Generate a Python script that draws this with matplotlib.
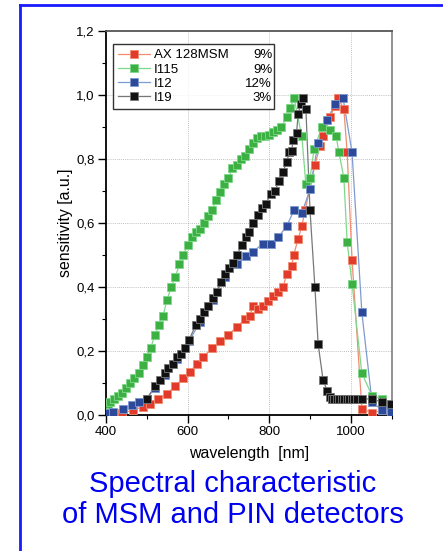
import numpy as np
import matplotlib
matplotlib.use('Agg')
import matplotlib.pyplot as plt
from matplotlib.lines import Line2D
from matplotlib.ticker import MultipleLocator, FuncFormatter

plt.rcParams['font.family'] = ['Liberation Sans', 'DejaVu Sans']

#-------------------------------------------------------------------------------
# data (wavelength in nm, sensitivity in a.u.)
ax128_wl = [420, 440, 466, 491, 508, 528, 549, 569, 589, 606, 623, 638, 660, 679,
            699, 721, 741, 753, 760, 773, 785, 797, 809, 822, 834, 843, 855, 860,
            871, 880, 888, 912, 924, 932, 949, 961, 969, 983, 991, 1003, 1027,
            1052, 1076, 1098]
ax128_s = [0.0, 0.005, 0.015, 0.025, 0.035, 0.05, 0.065, 0.09, 0.115, 0.135, 0.16,
           0.18, 0.21, 0.23, 0.25, 0.275, 0.30, 0.31, 0.34, 0.33, 0.34, 0.355,
           0.37, 0.385, 0.40, 0.44, 0.465, 0.50, 0.55, 0.59, 0.64, 0.78, 0.84,
           0.87, 0.93, 0.965, 0.99, 0.955, 0.82, 0.485, 0.02, 0.005, 0.015, 0.01]

i115_wl = [400, 405, 410, 420, 430, 440, 450, 460, 470, 480, 490, 500, 510, 520,
           530, 540, 550, 560, 570, 580, 590, 600, 610, 620, 630, 640, 650, 660,
           670, 680, 690, 700, 710, 720, 730, 740, 750, 760, 770, 780, 790, 800,
           810, 820, 830, 843, 852, 861, 880, 890, 900, 910, 929, 949, 964, 971,
           983, 991, 1003, 1027, 1052, 1076]
i115_s = [0.03, 0.035, 0.04, 0.05, 0.06, 0.07, 0.085, 0.10, 0.115, 0.13, 0.155,
          0.18, 0.21, 0.25, 0.28, 0.31, 0.36, 0.40, 0.43, 0.47, 0.50, 0.53, 0.555,
          0.57, 0.58, 0.60, 0.62, 0.64, 0.67, 0.695, 0.72, 0.74, 0.77, 0.78, 0.80,
          0.81, 0.83, 0.85, 0.865, 0.87, 0.87, 0.875, 0.885, 0.89, 0.90, 0.93,
          0.96, 0.99, 0.87, 0.72, 0.74, 0.83, 0.90, 0.89, 0.87, 0.82, 0.74, 0.54,
          0.41, 0.13, 0.06, 0.05]

i12_wl = [400, 417, 442, 463, 481, 500, 520, 545, 574, 604, 630, 662, 692, 721,
          743, 761, 784, 804, 822, 843, 861, 880, 900, 920, 941, 961, 981, 1003,
          1027, 1052, 1076, 1098]
i12_s = [0.005, 0.01, 0.02, 0.03, 0.04, 0.05, 0.085, 0.125, 0.175, 0.23, 0.29,
         0.36, 0.43, 0.47, 0.495, 0.51, 0.535, 0.535, 0.555, 0.59, 0.64, 0.63,
         0.705, 0.85, 0.92, 0.97, 0.99, 0.82, 0.32, 0.04, 0.015, 0.01]

i19_wl = [500, 520, 532, 545, 552, 564, 574, 583, 594, 604, 620, 630, 640, 650,
          662, 672, 682, 692, 702, 711, 721, 733, 743, 750, 761, 773, 782, 792,
          804, 814, 824, 834, 843, 849, 855, 859, 867, 871, 877, 883, 890, 900,
          912, 920, 932, 942, 948, 954, 960, 966, 972, 978, 984, 990, 996, 1002,
          1008, 1014, 1027, 1052, 1076, 1098]
i19_s = [0.05, 0.09, 0.11, 0.13, 0.145, 0.16, 0.18, 0.19, 0.21, 0.235, 0.28,
         0.30, 0.32, 0.34, 0.365, 0.385, 0.415, 0.44, 0.46, 0.475, 0.50, 0.53,
         0.555, 0.57, 0.60, 0.625, 0.645, 0.66, 0.69, 0.70, 0.73, 0.76, 0.79,
         0.82, 0.825, 0.86, 0.88, 0.94, 0.97, 0.99, 0.955, 0.64, 0.40, 0.22, 0.11,
         0.075, 0.055, 0.05, 0.05, 0.05, 0.05, 0.05, 0.05, 0.05, 0.05, 0.05,
         0.05, 0.05, 0.05, 0.05, 0.04, 0.035]

names = ['AX 128MSM', 'I115', 'I12', 'I19']
percents = ['9%', '9%', '12%', '3%']
#-------------------------------------------------------------------------------

series = [(ax128_wl, ax128_s, '#e23a2b', '#f08c70'),
          (i115_wl, i115_s, '#3cb043', '#7fd88a'),
          (i12_wl, i12_s, '#2d4a9a', '#7f9ad0'),
          (i19_wl, i19_s, '#111111', '#777777')]

fig = plt.figure(figsize=(4.43, 5.51), dpi=100)
ax = fig.add_axes([0.239, 0.247, 0.646, 0.697])

handles = []
for (wl, s, mc, lc), nm in zip(series, names):
    ax.plot(wl, s, '-', color=lc, lw=0.9, zorder=2)
    ax.plot(wl, s, 's', ms=5.2, mfc=mc, mec=lc, mew=0.6, zorder=3)
    handles.append(Line2D([], [], color=lc, lw=0.9, marker='s', ms=5.5,
                          mfc=mc, mec=lc, mew=0.6))

ax.set_xlim(400, 1101)
ax.set_ylim(0, 1.2)
ax.xaxis.set_major_locator(MultipleLocator(200))
ax.xaxis.set_minor_locator(MultipleLocator(100))
ax.yaxis.set_major_locator(MultipleLocator(0.2))
ax.yaxis.set_minor_locator(MultipleLocator(0.1))
ax.yaxis.set_major_formatter(FuncFormatter(lambda v, p: ('%.1f' % v).replace('.', ',')))
ax.tick_params(which='major', direction='out', length=6, width=1, labelsize=9.5,
               top=False, right=False, pad=2)
ax.tick_params(which='minor', direction='out', length=3, width=0.8,
               top=False, right=False)
for xg in [600, 800, 1000]:
    ax.axvline(xg, color='#aaaaaa', lw=0.6, ls=(0, (1, 1.5)), zorder=1)
for yg in [0.2, 0.4, 0.6, 0.8, 1.0]:
    ax.axhline(yg, color='#aaaaaa', lw=0.6, ls=(0, (1, 1.5)), zorder=1)

ax.spines['left'].set_linewidth(1.3)
ax.spines['bottom'].set_linewidth(1.3)
ax.spines['top'].set_color('#555555')
ax.spines['right'].set_color('#888888')
ax.spines['top'].set_linewidth(1.3)
ax.spines['right'].set_linewidth(1.3)

ax.set_xlabel('wavelength  [nm]', fontsize=11.4, labelpad=6)
ax.set_ylabel('sensitivity [a.u.]', fontsize=11.4, labelpad=2)

# legend box spans a fixed region; percentages go at its right edge
leg = ax.legend(handles, names, loc='upper left', mode='expand',
                bbox_to_anchor=(0.0245, 0.797, 0.5625, 0.169),
                fontsize=9.5, frameon=True, fancybox=False, edgecolor='black',
                handlelength=2.4, handletextpad=0.3, borderpad=0.4,
                labelspacing=0.15, borderaxespad=0)
leg.get_frame().set_linewidth(1.0)
leg.set_zorder(5)
fig.canvas.draw()
bb = leg.get_window_extent().transformed(ax.transAxes.inverted())
for t, pc in zip(leg.get_texts(), percents):
    tb = t.get_window_extent().transformed(ax.transAxes.inverted())
    ax.text(bb.x1 - 0.006, (tb.y0 + tb.y1) / 2, pc, transform=ax.transAxes,
            ha='right', va='center', fontsize=9.5, zorder=6)

fig.text(0.526, 0.093, 'Spectral characteristic\nof MSM and PIN detectors',
         ha='center', va='center', fontsize=21, color='#0000f0',
         linespacing=1.12)

# blue frame of the slide
fig.add_artist(Line2D([20 / 443, 1.0], [1 - 5 / 551, 1 - 5 / 551],
                      transform=fig.transFigure, color='#1a1aff', lw=2))
fig.add_artist(Line2D([20 / 443, 20 / 443], [0.0, 1 - 5 / 551],
                      transform=fig.transFigure, color='#1a1aff', lw=2))

fig.savefig('out.png', dpi=100)
